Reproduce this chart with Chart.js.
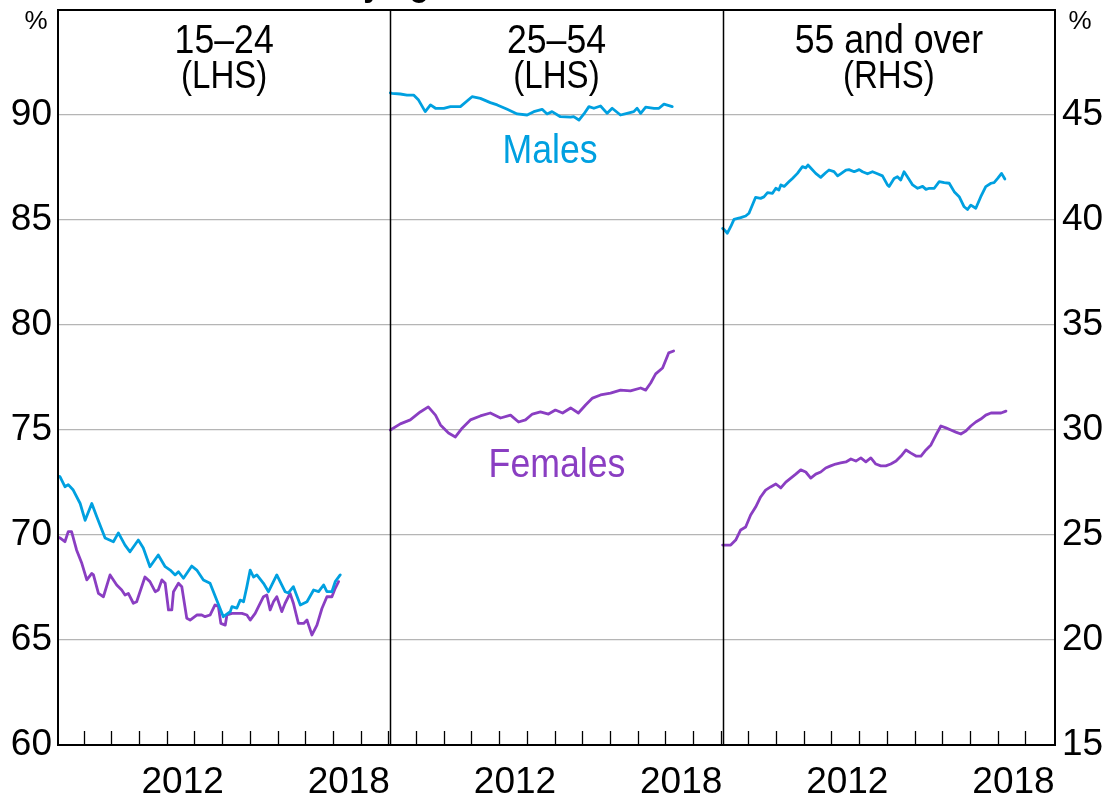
<!DOCTYPE html>
<html><head><meta charset="utf-8">
<script src="https://cdn.jsdelivr.net/npm/chart.js@4.4.1/dist/chart.umd.min.js"></script>
<style>html,body{margin:0;padding:0;background:#fff;overflow:hidden}#wrap{width:1108px;height:800px}</style>
</head><body><div id="wrap"><canvas id="c" width="1108" height="800"></canvas></div>
<script>
// ---------- data ----------
const START_YEAR = 2008;
const PANEL_YEARS = 12;
const panelTitles = ['15–24', '25–54', '55 and over'];
const panelSides = ['(LHS)', '(LHS)', '(RHS)'];
const yearTickLabels = ['2012', '2018'];
const yearTickYears = [2012, 2018];
const leftTicks = [60, 65, 70, 75, 80, 85, 90];
const rightTicks = [15, 20, 25, 30, 35, 40, 45];
const seriesNames = ['Males', 'Females'];

// 15–24 (LHS)
const males1524Dates = [2008.0,2008.07,2008.25,2008.37,2008.55,2008.80,2008.98,2009.22,2009.40,2009.70,2010.00,2010.18,2010.42,2010.60,2010.90,2011.08,2011.32,2011.62,2011.87,2012.05,2012.23,2012.35,2012.53,2012.83,2013.01,2013.25,2013.49,2013.73,2013.97,2014.22,2014.28,2014.46,2014.58,2014.70,2014.82,2014.94,2015.06,2015.18,2015.42,2015.60,2015.90,2016.20,2016.32,2016.50,2016.75,2016.99,2017.23,2017.41,2017.59,2017.71,2017.89,2018.01,2018.19];
const males1524 = [72.8,72.78,72.3,72.4,72.14,71.5,70.7,71.5,70.87,69.86,69.68,70.1,69.52,69.2,69.76,69.38,68.49,69.05,68.49,68.33,68.1,68.25,67.94,68.52,68.33,67.86,67.7,66.9,66.11,66.35,66.59,66.52,66.9,66.82,67.54,68.33,68.0,68.1,67.7,67.3,68.1,67.3,67.24,67.54,66.67,66.82,67.38,67.3,67.62,67.3,67.3,67.78,68.1];
const females1524Dates = [2008.0,2008.07,2008.25,2008.37,2008.49,2008.67,2008.86,2009.04,2009.22,2009.28,2009.46,2009.64,2009.88,2010.12,2010.30,2010.42,2010.54,2010.72,2010.84,2011.14,2011.32,2011.51,2011.62,2011.75,2011.87,2011.99,2012.11,2012.17,2012.35,2012.47,2012.65,2012.77,2013.01,2013.19,2013.31,2013.49,2013.67,2013.79,2013.88,2014.04,2014.10,2014.28,2014.46,2014.64,2014.82,2014.94,2015.12,2015.24,2015.42,2015.54,2015.66,2015.78,2015.90,2016.08,2016.20,2016.38,2016.50,2016.68,2016.87,2016.99,2017.05,2017.17,2017.35,2017.53,2017.71,2017.89,2018.01,2018.13];
const females1524 = [69.9,69.86,69.68,70.16,70.16,69.29,68.65,67.86,68.17,68.1,67.22,67.06,68.1,67.62,67.38,67.14,67.22,66.75,66.82,68.0,67.78,67.3,67.38,67.86,67.7,66.43,66.43,67.3,67.7,67.54,66.03,65.95,66.19,66.19,66.11,66.19,66.67,66.6,65.79,65.71,66.19,66.27,66.27,66.27,66.19,65.95,66.27,66.59,67.06,67.14,66.43,66.82,67.06,66.35,66.75,67.22,66.75,65.79,65.79,65.95,65.71,65.24,65.71,66.5,67.06,67.06,67.46,67.78];

// 25–54 (LHS)
const males2554Dates = [2008.0,2008.06,2008.36,2008.60,2008.84,2009.02,2009.26,2009.45,2009.63,2009.93,2010.17,2010.53,2010.95,2011.25,2011.61,2011.86,2012.22,2012.58,2012.94,2013.18,2013.48,2013.66,2013.84,2014.14,2014.51,2014.62,2014.81,2014.99,2015.17,2015.35,2015.59,2015.83,2016.01,2016.31,2016.55,2016.79,2016.91,2017.04,2017.22,2017.52,2017.70,2017.88,2018.18];
const males2554 = [91.05,91.03,91.0,90.95,90.95,90.71,90.16,90.48,90.32,90.32,90.4,90.4,90.87,90.79,90.59,90.48,90.27,90.05,90.0,90.16,90.27,90.05,90.16,89.92,89.9,89.92,89.76,90.05,90.4,90.32,90.43,90.08,90.32,90.0,90.08,90.16,90.32,90.08,90.37,90.32,90.32,90.52,90.4];
const females2554Dates = [2008.0,2008.36,2008.72,2009.08,2009.37,2009.63,2009.81,2010.10,2010.35,2010.60,2010.89,2011.25,2011.61,2011.98,2012.34,2012.63,2012.88,2013.13,2013.42,2013.71,2013.96,2014.22,2014.51,2014.79,2015.05,2015.30,2015.59,2015.95,2016.31,2016.67,2017.04,2017.22,2017.40,2017.58,2017.83,2018.05,2018.23];
const females2554 = [75.0,75.29,75.48,75.86,76.1,75.71,75.24,74.86,74.67,75.1,75.48,75.67,75.81,75.57,75.71,75.38,75.48,75.76,75.86,75.76,75.95,75.81,76.05,75.81,76.19,76.52,76.67,76.76,76.9,76.86,77.0,76.9,77.24,77.67,77.95,78.67,78.76];

// 55 and over (RHS)
const males55Dates = [2008.0,2008.07,2008.17,2008.29,2008.41,2008.65,2008.83,2008.95,2009.19,2009.37,2009.49,2009.62,2009.80,2009.92,2010.03,2010.10,2010.22,2010.40,2010.52,2010.70,2010.88,2011.00,2011.08,2011.18,2011.36,2011.54,2011.72,2011.84,2012.02,2012.15,2012.26,2012.45,2012.56,2012.75,2012.93,2013.05,2013.23,2013.41,2013.59,2013.77,2013.95,2014.01,2014.19,2014.31,2014.43,2014.55,2014.67,2014.86,2015.04,2015.22,2015.34,2015.46,2015.64,2015.82,2016.00,2016.18,2016.36,2016.54,2016.72,2016.84,2016.96,2017.14,2017.32,2017.50,2017.69,2017.80,2017.93,2018.07,2018.19];
const males55 = [39.6,39.52,39.37,39.68,40.03,40.11,40.19,40.32,41.08,41.03,41.1,41.3,41.27,41.51,41.43,41.67,41.6,41.83,41.98,42.22,42.54,42.48,42.62,42.48,42.22,42.03,42.25,42.38,42.3,42.1,42.2,42.38,42.4,42.3,42.4,42.3,42.2,42.3,42.2,42.1,41.67,41.6,41.98,42.06,41.9,42.3,42.06,41.67,41.51,41.6,41.46,41.51,41.51,41.83,41.78,41.75,41.35,41.11,40.63,40.5,40.71,40.56,41.11,41.59,41.75,41.78,41.98,42.22,41.95];
const females55Dates = [2008.0,2008.29,2008.47,2008.65,2008.83,2009.01,2009.19,2009.37,2009.55,2009.73,2009.92,2010.10,2010.28,2010.46,2010.64,2010.82,2011.00,2011.18,2011.36,2011.54,2011.72,2011.90,2012.08,2012.26,2012.45,2012.63,2012.81,2012.99,2013.17,2013.35,2013.53,2013.71,2013.89,2014.07,2014.26,2014.44,2014.62,2014.80,2014.98,2015.16,2015.34,2015.52,2015.70,2015.88,2016.06,2016.24,2016.42,2016.60,2016.78,2016.96,2017.14,2017.32,2017.50,2017.69,2017.87,2018.05,2018.23];
const females55 = [24.52,24.52,24.76,25.24,25.38,25.95,26.33,26.81,27.14,27.29,27.43,27.24,27.52,27.71,27.9,28.1,28.0,27.71,27.9,28.0,28.19,28.29,28.38,28.43,28.48,28.62,28.52,28.67,28.48,28.67,28.38,28.29,28.29,28.38,28.52,28.76,29.05,28.9,28.76,28.76,29.05,29.29,29.76,30.19,30.1,30.0,29.9,29.81,29.95,30.19,30.38,30.52,30.71,30.81,30.81,30.81,30.9];

// ---------- styles ----------
const BLUE = '#00a0e0';
const PURPLE = '#8a3ec2';
const FONT = "'Liberation Sans', Arial, sans-serif";

function toPoints(panel, dates, vals) {
  return dates.map((d, i) => ({ x: panel * PANEL_YEARS + (d - START_YEAR), y: vals[i] }));
}
function ds(label, panel, dates, vals, color, axis) {
  return { label, data: toPoints(panel, dates, vals), borderColor: color, backgroundColor: color,
    borderWidth: 2.8, pointRadius: 0, tension: 0, yAxisID: axis, borderJoinStyle: 'round', borderCapStyle: 'round' };
}

const xTickItems = [];
for (let p = 0; p < 3; p++) yearTickYears.forEach((yr, i) => xTickItems.push({ value: p * PANEL_YEARS + (yr - START_YEAR) + 0.5, text: yearTickLabels[i] }));

function drawText(ctx, text, x, y, size, color, sx) {
  ctx.save();
  ctx.font = size + 'px ' + FONT;
  ctx.fillStyle = color;
  ctx.textAlign = 'center';
  ctx.textBaseline = 'alphabetic';
  ctx.translate(x, y);
  ctx.scale(sx, 1);
  ctx.fillText(text, 0, 0);
  ctx.restore();
}

const decor = {
  id: 'decor',
  afterDraw(chart) {
    const { ctx, chartArea: a, scales } = chart;
    const xs = scales.x;
    ctx.save();
    // inward year tick marks
    ctx.strokeStyle = '#000'; ctx.lineWidth = 1.3;
    for (let t = 1; t < 3 * PANEL_YEARS; t++) {
      const px = Math.round(xs.getPixelForValue(t)) - 1.5;
      ctx.beginPath(); ctx.moveTo(px, a.bottom); ctx.lineTo(px, a.bottom - 14); ctx.stroke();
    }
    // panel dividers
    ctx.lineWidth = 1.5;
    for (let p = 1; p < 3; p++) {
      const px = Math.round(xs.getPixelForValue(p * PANEL_YEARS)) + 0.5;
      ctx.beginPath(); ctx.moveTo(px, a.top); ctx.lineTo(px, a.bottom); ctx.stroke();
    }
    // frame
    ctx.lineWidth = 2;
    ctx.strokeRect(a.left, a.top, a.right - a.left, a.bottom - a.top);
    ctx.restore();

    // panel titles
    for (let p = 0; p < 3; p++) {
      const cx = (xs.getPixelForValue(p * PANEL_YEARS) + xs.getPixelForValue((p + 1) * PANEL_YEARS)) / 2;
      drawText(ctx, panelTitles[p], cx, 53, 41, '#000', 0.87);
      drawText(ctx, panelSides[p], cx, 88, 38, '#000', 0.87);
    }
    // series labels
    drawText(ctx, seriesNames[0], 550, 163, 41, BLUE, 0.87);
    drawText(ctx, seriesNames[1], 557, 477, 41, PURPLE, 0.87);
    // units
    drawText(ctx, '%', 36, 29, 26, '#000', 1);
    drawText(ctx, '%', 1080, 29, 26, '#000', 1);
    // clipped title fragment at the very top
    ctx.save();
    ctx.font = 'bold 38px ' + FONT; ctx.fillStyle = '#000'; ctx.textAlign = 'left'; ctx.textBaseline = 'alphabetic';
    ctx.translate(343, -5); ctx.scale(0.87, 1);
    ctx.fillText('by age', 0, 0);
    ctx.restore();
  }
};

function noPad(s) { s.paddingTop = 0; s.paddingBottom = 0; }

new Chart(document.getElementById('c'), {
  type: 'line',
  data: {
    datasets: [
      ds('Males 15–24', 0, males1524Dates, males1524, BLUE, 'y'),
      ds('Females 15–24', 0, females1524Dates, females1524, PURPLE, 'y'),
      ds('Males 25–54', 1, males2554Dates, males2554, BLUE, 'y'),
      ds('Females 25–54', 1, females2554Dates, females2554, PURPLE, 'y'),
      ds('Males 55 and over', 2, males55Dates, males55, BLUE, 'y2'),
      ds('Females 55 and over', 2, females55Dates, females55, PURPLE, 'y2'),
    ]
  },
  options: {
    responsive: false, animation: false, devicePixelRatio: 1,
    layout: { padding: { top: 10, left: 0, right: 0, bottom: 0 } },
    plugins: { legend: { display: false }, tooltip: { enabled: false }, title: { display: false } },
    scales: {
      x: {
        type: 'linear', min: 0, max: 3 * PANEL_YEARS, position: 'bottom',
        afterBuildTicks: s => { s.ticks = xTickItems.map(t => ({ value: t.value })); },
        afterFit: s => { s.height = 55; s.paddingLeft = 0; s.paddingRight = 0; },
        ticks: { autoSkip: false, maxRotation: 0, padding: 8, color: '#000',
          font: { family: FONT, size: 37 }, callback: (v, i) => xTickItems[i].text },
        grid: { display: false }, border: { display: false }
      },
      y: {
        type: 'linear', position: 'left', min: 60, max: 95,
        afterBuildTicks: s => { s.ticks = leftTicks.map(v => ({ value: v })); },
        afterFit: s => { s.width = 58; noPad(s); },
        ticks: { padding: 6, color: '#000', font: { family: FONT, size: 37 }, callback: v => String(v) },
        grid: { drawTicks: false, lineWidth: 1.3, color: c => (c.tick && c.tick.value === 60) ? 'rgba(0,0,0,0)' : '#b5b5b5' },
        border: { display: false }
      },
      y2: {
        type: 'linear', position: 'right', min: 15, max: 50,
        afterBuildTicks: s => { s.ticks = rightTicks.map(v => ({ value: v })); },
        afterFit: s => { s.width = 53; noPad(s); },
        ticks: { padding: 7, color: '#000', font: { family: FONT, size: 37 }, callback: v => String(v) },
        grid: { display: false, drawTicks: false },
        border: { display: false }
      }
    }
  },
  plugins: [decor]
});
</script>
</body></html>
